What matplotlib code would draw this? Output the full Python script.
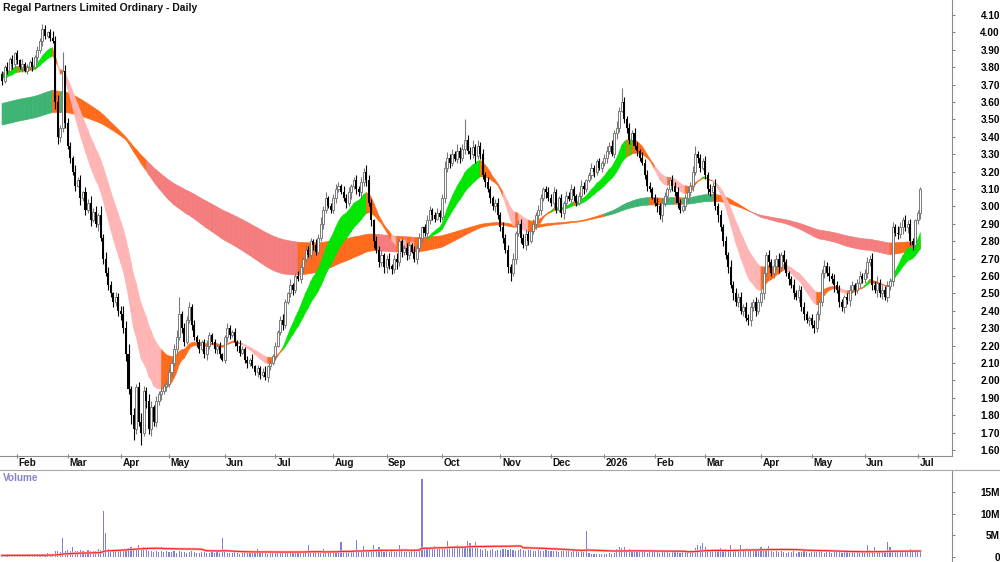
import numpy as np
import pandas as pd
import matplotlib
matplotlib.use("Agg")
import matplotlib.pyplot as plt
from matplotlib.collections import PolyCollection
from matplotlib.lines import Line2D
import matplotlib.transforms as mtransforms

plt.rcParams['font.family'] = ['Liberation Sans', 'DejaVu Sans']

title = "Regal Partners Limited Ordinary - Daily"

# ASX trading days, Jan 23 2025 .. Jul 2 2026
start_date = "2025-01-23"
end_date = "2026-07-02"
holidays = ["2025-01-27", "2025-04-18", "2025-04-21", "2025-04-25", "2025-06-09",
            "2025-12-25", "2025-12-26", "2026-01-01", "2026-01-26", "2026-04-03",
            "2026-04-06", "2026-06-08"]

month_labels = ["Feb", "Mar", "Apr", "May", "Jun", "Jul", "Aug", "Sep", "Oct", "Nov",
                "Dec", "2026", "Feb", "Mar", "Apr", "May", "Jun", "Jul"]

first_open = 3.76
close = [
    3.72, 3.80, 3.78, 3.85, 3.82, 3.88,  # Jan 25
    3.84, 3.80, 3.82, 3.78, 3.80, 3.83, 3.80, 3.86, 3.90, 3.95,
    4.02, 3.98, 4.00, 3.97, 3.95, 3.60, 3.40, 3.45, 3.78, 3.48,  # Feb
    3.35, 3.28, 3.20, 3.12, 3.15, 3.05, 3.08, 2.98, 3.02, 2.92, 2.97,
    2.90, 2.95, 2.82, 2.70, 2.62, 2.55, 2.50, 2.45, 2.48, 2.40,  # Mar
    2.38, 2.30, 2.15, 1.95, 1.80, 1.72, 1.96, 1.76, 1.70, 1.94,
    1.88, 1.72, 1.85, 1.76, 1.88, 1.92, 1.94, 1.97, 1.98,  # Apr
    2.05, 2.10, 2.18, 2.25, 2.38, 2.30, 2.22, 2.35, 2.42, 2.32, 2.25,
    2.22, 2.18, 2.22, 2.15, 2.20, 2.26, 2.22, 2.18, 2.20, 2.15, 2.12,  # May
    2.25, 2.30, 2.26, 2.28, 2.22, 2.20, 2.16, 2.18, 2.12, 2.10,
    2.12, 2.08, 2.05, 2.07, 2.03, 2.05, 2.02, 2.08, 2.10, 2.14,  # Jun
    2.20, 2.28, 2.35, 2.32, 2.45, 2.50, 2.55, 2.52, 2.60, 2.58, 2.65, 2.70,
    2.75, 2.72, 2.80, 2.78, 2.74, 2.82, 2.90, 2.98, 3.05, 3.00, 2.98,  # Jul
    3.05, 3.10, 3.12, 3.08, 3.05, 3.02, 3.08, 3.12, 3.15, 3.10, 3.08,
    3.14, 3.20, 3.15, 3.02, 2.92, 2.80, 2.75, 2.68, 2.72, 2.65,  # Aug
    2.70, 2.66, 2.64, 2.70, 2.68, 2.80, 2.74, 2.76, 2.72, 2.78, 2.74,
    2.70, 2.76, 2.82, 2.88, 2.85, 2.92, 2.98, 2.95, 2.93, 2.96, 2.94,  # Sep
    3.05, 3.22, 3.28, 3.25, 3.30, 3.27, 3.32, 3.28, 3.33, 3.38, 3.32, 3.30,
    3.34, 3.29, 3.35, 3.30, 3.18, 3.14, 3.10, 3.05, 3.00, 3.02, 2.95,  # Oct
    2.88, 2.82, 2.75, 2.65, 2.62, 2.70, 2.85, 2.90, 2.82, 2.78,
    2.84, 2.80, 2.86, 2.90, 2.95, 2.98, 3.05, 3.10, 3.08, 3.05,  # Nov
    3.02, 3.08, 2.98, 3.05, 2.96, 3.02, 3.06, 3.04, 3.10, 3.06, 3.02,
    3.06, 3.12, 3.10, 3.15, 3.18, 3.22, 3.20, 3.26, 3.22, 3.25,  # Dec
    3.28, 3.32, 3.35, 3.30, 3.42, 3.45, 3.55, 3.60, 3.50, 3.45,
    3.38, 3.42, 3.35, 3.32, 3.28, 3.25, 3.18, 3.12, 3.10, 3.05,  # Jan 26
    3.02, 3.00, 2.95, 3.02, 3.06, 3.10, 3.15, 3.12, 3.08, 3.02,
    2.98, 3.00, 3.05, 3.08, 3.12, 3.20, 3.30, 3.28, 3.22, 3.26,  # Feb
    3.18, 3.10, 3.08, 3.12, 3.00, 2.95, 2.88, 2.80, 2.72, 2.65, 2.55,
    2.50, 2.45, 2.48, 2.40, 2.42, 2.36, 2.35, 2.42, 2.45, 2.40, 2.45,  # Mar
    2.50, 2.62, 2.72, 2.68, 2.62, 2.66, 2.70, 2.65, 2.72, 2.68,
    2.62, 2.58, 2.55, 2.50, 2.48, 2.52, 2.42, 2.38, 2.35, 2.36,  # Apr
    2.32, 2.30, 2.38, 2.45, 2.62, 2.66, 2.62, 2.60, 2.58, 2.55, 2.52,
    2.45, 2.42, 2.48, 2.46, 2.52, 2.55, 2.52, 2.56, 2.60, 2.58,  # May
    2.62, 2.68, 2.70, 2.55, 2.52, 2.56, 2.50, 2.52, 2.48, 2.54, 2.57,
    2.88, 2.85, 2.84, 2.88, 2.92, 2.88, 2.90, 2.80, 2.78, 2.92,  # Jun
    2.96, 3.10,  # Jul
]

# wick lengths in cents above / below the body (base-36 digits)
wick_hi = "".join([
    "213121", "213121312232124342b3", "321423132423152432132", "3546242353243132212",
    "2334a23232312123212121", "13212132121312123121", "21232131232132213242312",
    "232142312323243213231", "2312321232132312321232", "243232423c3242323232123",
    "23232312323213232123", "232121323212321232121", "23232428323232132321",
    "23232123232123235222", "3232423232423232323232", "23232423232123232321",
    "232123242323212321232", "232324232323243232321", "21",
])
wick_lo = "".join([
    "212132", "21312121323212144323", "232314232312423232323", "3343563272434232323",
    "2323232123232123212321", "23212321232123212321", "21232123212321232123212",
    "232123242323232342323", "3232423232123232323213", "23232123232324232323232",
    "23235232323212323232", "232123212321232123212", "23212321232123212321",
    "23242323232123232321", "2323242323242323234232", "23232323242323232324",
    "232323232423232323232", "232324232323232423232", "23",
])

# volume in 0.1M shares
volume = [
    4, 3, 5, 3, 4, 5,
    4, 3, 5, 4, 3, 4, 5, 3, 4, 4, 5, 4, 9, 5, 6, 14, 13, 11, 43, 15,
    16, 14, 23, 15, 13, 17, 14, 12, 16, 13, 15, 14, 18, 16, 107, 55, 18, 15, 14, 16, 15,
    15, 16, 18, 21, 24, 19, 20, 27, 18, 22, 16, 14, 13, 12, 15, 11, 13, 12, 14,
    12, 11, 13, 10, 14, 12, 11, 10, 12, 13, 11, 9, 10, 12, 11, 10, 9, 11, 10, 12, 10, 45,
    11, 10, 9, 10, 12, 9, 8, 10, 11, 9, 10, 9, 10, 18, 11, 9, 10, 8, 9, 11,
    12, 11, 13, 10, 12, 14, 11, 12, 10, 13, 12, 11, 14, 27, 12, 11, 13, 12, 15, 18, 15, 14, 12,
    13, 12, 14, 34, 12, 13, 11, 14, 12, 40, 13, 12, 25, 14, 13, 15, 27, 18, 23, 14, 12,
    14, 12, 13, 12, 11, 27, 13, 12, 11, 12, 13, 14, 12, 21, 180, 16, 22, 24, 23, 26, 22, 24,
    22, 20, 36, 21, 25, 22, 28, 20, 24, 23, 36, 33, 22, 35, 21, 18, 17, 19, 15, 16, 18, 15, 17,
    17, 19, 18, 16, 19, 17, 15, 16, 18, 16, 15, 17, 16, 15, 14, 16, 15, 14, 16, 15,
    14, 13, 15, 12, 14, 13, 15, 14, 12, 13, 14, 12, 13, 11, 60, 9, 7, 8, 6, 7, 8,
    7, 8, 9, 8, 10, 18, 24, 20, 24, 16, 19, 15, 17, 14, 12, 11, 13, 10, 12, 11,
    11, 12, 10, 13, 11, 12, 10, 11, 13, 12, 10, 11, 12, 11, 13, 12, 20, 27, 25, 32,
    22, 18, 16, 19, 15, 17, 20, 16, 18, 15, 27, 17, 19, 16, 28, 18, 15, 17, 14, 16, 15, 14,
    24, 15, 14, 26, 13, 12, 14, 11, 13, 12, 10, 12, 11, 13, 10, 12, 11, 13, 12, 10,
    12, 14, 11, 13, 12, 10, 11, 12, 10, 13, 11, 12, 10, 11, 12, 10, 11, 13, 11, 10, 12,
    12, 28, 16, 13, 22, 12, 11, 13, 12, 35, 23, 14, 12, 13, 11, 12, 13, 14, 19, 12, 11,
    13, 15,
]

# moving-average ribbons (periods, starting values at the first bar)
short_periods = [14, 16, 18, 20, 23, 26]
short_seed = [3.775, 3.77, 3.765, 3.755, 3.745, 3.735]
long_periods = [130, 145, 160, 175, 190, 205]
long_seed = [3.59, 3.57, 3.545, 3.52, 3.495, 3.465]

short_colors = ["#00e600", "#ff6a1a", "#ffb4b4"]   # bull, mixed, bear
long_colors = ["#3cb371", "#ff6a1a", "#f47c7c"]

# ---------------------------------------------------------------------------
c = np.array(close)
n = len(c)
o = np.r_[first_open, c[:-1]]
hi = np.maximum(o, c) + np.array([int(ch, 36) for ch in wick_hi]) / 100
lo = np.minimum(o, c) - np.array([int(ch, 36) for ch in wick_lo]) / 100
vol = np.array(volume) / 10.0
x = np.arange(n)

dates = pd.bdate_range(start_date, end_date, freq="C", holidays=holidays)[:n]
month_start = [i for i in range(1, n) if dates[i].month != dates[i - 1].month]


def ema(values, period, seed):
    k = 2.0 / (period + 1)
    out = np.empty(len(values))
    prev = seed
    for i, v in enumerate(values):
        prev = prev + k * (v - prev)
        out[i] = prev
    return out


def ribbon(ax, periods, seeds, colors, z):
    E = np.vstack([ema(c, p, s) for p, s in zip(periods, seeds)])
    top, bot = E.max(0), E.min(0)
    d = np.diff(E, axis=0)                      # slow minus fast
    slope = np.diff(E, axis=1, prepend=E[:, :1])
    bull = (d < 0).all(0) & (slope >= 0).all(0)
    bear = (d > 0).all(0) & (slope <= 0).all(0)
    state = np.where(bull, 0, np.where(bear, 2, 1))
    verts, fcs = [], []
    for i in range(n - 1):
        verts.append([(i, bot[i]), (i + 1, bot[i + 1]), (i + 1, top[i + 1]), (i, top[i])])
        fcs.append(colors[state[i + 1]])
    pc = PolyCollection(verts, facecolors=fcs, edgecolors=fcs, linewidths=0.4, zorder=z)
    ax.add_collection(pc)


W, H = 1000, 562


def box(x0, y0, x1, y1):
    return [x0 / W, 1 - y1 / H, (x1 - x0) / W, (y1 - y0) / H]


fig = plt.figure(figsize=(10, 5.62), dpi=100)
ax = fig.add_axes(box(0, 0, 952, 456))
axv = fig.add_axes(box(0, 470, 952, 562))

px_per_bar = 2.53
xl = (-2 / px_per_bar, 950 / px_per_bar)

# price panel
ribbon(ax, long_periods, long_seed, long_colors, 1)
ribbon(ax, short_periods, short_seed, short_colors, 2)

up = c >= o
grey = "#7a7a7a"
ax.vlines(x[up], lo[up], hi[up], color=grey, lw=0.8, zorder=3)
ax.vlines(x[~up], lo[~up], hi[~up], color="black", lw=0.8, zorder=3)
ax.bar(x[up], np.maximum(c - o, 0.004)[up], bottom=o[up], width=0.8,
       facecolor="white", edgecolor=grey, linewidth=0.7, zorder=4)
ax.bar(x[~up], (o - c)[~up], bottom=c[~up], width=0.8, color="black", linewidth=0, zorder=4)

ax.set_xlim(*xl)
ax.set_ylim(1.6 - 6 / 174, 4.1 + 15 / 174)
yt = np.round(np.arange(1.6, 4.1001, 0.1), 2)
ax.yaxis.tick_right()
ax.set_yticks(yt)
ax.set_yticklabels([f"{v:.2f}" for v in yt])
ax.tick_params(axis="y", direction="out", length=2.5, color="#808080", pad=32, labelsize=7.2)
for lab in ax.get_yticklabels():
    lab.set_ha("right")
    lab.set_fontweight("bold")
ax.set_xticks(month_start)
ax.set_xticklabels([])
ax.tick_params(axis="x", direction="inout", length=3, color="#808080")
trans = mtransforms.offset_copy(mtransforms.blended_transform_factory(ax.transData, ax.transAxes),
                                fig=fig, x=1.5, y=-1.5, units="dots")
for i, lab in zip(month_start, month_labels):
    ax.text(i, 0, lab, transform=trans, ha="left", va="top", fontsize=7.2,
            fontweight="bold", color="#111111")
for s in ["left", "top"]:
    ax.spines[s].set_visible(False)
for s in ["right", "bottom"]:
    ax.spines[s].set_color("#8c8c8c")
    ax.spines[s].set_linewidth(0.8)

# volume panel
axv.bar(x, vol, width=0.45, color="#7f7fd6", linewidth=0, zorder=2)
vma = pd.Series(vol).rolling(40, min_periods=1).mean()
axv.plot(x, vma, color="#ffb0b0", lw=1.8, zorder=3)
axv.plot(x, vma, color="#ff2020", lw=0.8, zorder=4)
axv.set_xlim(*xl)
axv.set_ylim(-5 / 4.33, 87 / 4.33)
axv.yaxis.tick_right()
axv.set_yticks([0, 5, 10, 15])
axv.set_yticklabels(["0", "5M", "10M", "15M"])
axv.tick_params(axis="y", direction="out", length=2.5, color="#808080", pad=32, labelsize=7.2)
for lab in axv.get_yticklabels():
    lab.set_ha("right")
    lab.set_fontweight("bold")
axv.set_xticks([])
for s in ["left", "bottom", "top"]:
    axv.spines[s].set_visible(False)
axv.spines["right"].set_color("#8c8c8c")
axv.spines["right"].set_linewidth(0.8)

fig.add_artist(Line2D([0, 1], [1 - 469.5 / H] * 2, transform=fig.transFigure,
                      color="#a8a8a8", lw=0.8))
fig.text(3 / W, 1 - 478 / H, "Volume", ha="left", va="center", fontsize=7.2,
         fontweight="bold", color="#8585c8")
fig.text(3 / W, 1 - 8 / H, title, ha="left", va="center", fontsize=7.5,
         fontweight="bold", color="#111111")

fig.savefig("out.png", dpi=100)
